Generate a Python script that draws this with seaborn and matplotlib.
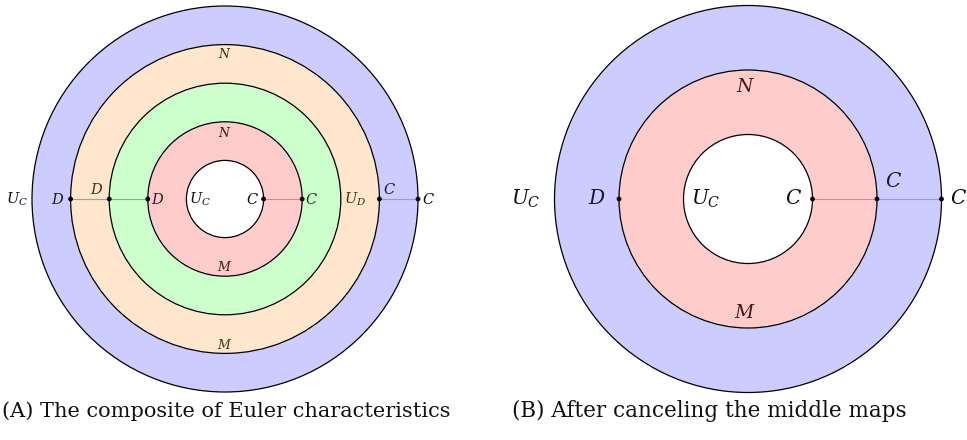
import matplotlib
matplotlib.use("Agg")
import matplotlib.pyplot as plt
import seaborn as sns
import pandas as pd
from matplotlib.patches import Circle

# ---------------- data ----------------
blue20, orange20, green20, red20 = "#ccccff", "#ffe6cc", "#ccffcc", "#ffcccc"

left_radii = [5, 4, 3, 2, 1]                       # outer -> inner
left_fills = [blue20, orange20, green20, red20, "white"]
left_dots = [-4, -3, -2, 1, 2, 4, 5]              # signed radius on horizontal axis
left_segments = [(-4, -2), (1, 2), (4, 5)]
left_labels = ["$U_C$", "$D$", "$D$", "$D$", "$U_C$", "$C$", "$C$", "$U_D$", "$C$", "$C$",
               "$N$", "$M$", "$N$", "$M$"]

right_radii = [3, 2, 1]
right_fills = [blue20, red20, "white"]
right_dots = [-2, 1, 2, 3]
right_segments = [(1, 3)]
right_labels = ["$U_C$", "$D$", "$U_C$", "$C$", "$C$", "$C$", "$N$", "$M$"]

captions = ["(A) The composite of Euler characteristics", "(B) After canceling the middle maps"]

# ---------------- layout (pixels / units) ----------------
W, H = 967, 440
left_center, left_scale = (225, 199), 38.6
right_center, right_scale = (748, 199), 64.5

txt_blue, txt_orange, txt_green, txt_red, txt_black = "#16163f", "#45300f", "#123f12", "#451616", "#0d0d0d"
left_label_pos = [(-5.39, 0), (-4.33, 0), (-3.32, 0.25), (-1.74, 0), (-0.65, 0), (0.70, 0),
                  (2.25, 0), (3.37, 0), (4.25, 0.25), (5.26, 0),
                  (0, 3.75), (0, -3.78), (0, 1.72), (0, -1.76)]
left_label_col = [txt_black, txt_blue, txt_orange, txt_red, txt_black, txt_black,
                  txt_green, txt_orange, txt_blue, txt_black,
                  txt_orange, txt_orange, txt_red, txt_red]
left_label_size = [10.5] * 10 + [9] * 4
right_label_pos = [(-3.45, 0), (-2.34, 0), (-0.66, 0), (0.70, 0), (2.25, 0.27), (3.27, 0),
                   (-0.04, 1.74), (-0.04, -1.76)]
right_label_col = [txt_black, txt_blue, txt_black, txt_black, txt_blue, txt_black,
                   txt_red, txt_red]
right_label_size = [14.5] * 6 + [13.5] * 2

sns.set_theme(style="white")
plt.rcParams["mathtext.fontset"] = "custom"
plt.rcParams["mathtext.rm"] = "DejaVu Serif"
plt.rcParams["mathtext.it"] = "DejaVu Serif:italic"
plt.rcParams["font.family"] = ["DejaVu Serif"]

fig = plt.figure(figsize=(W / 100, H / 100), dpi=100)
ax = fig.add_axes([0, 0, 1, 1])


def draw(center, scale, radii, fills, dots, segments, labels, lpos, lcol, lsize):
    cx, cy = center
    for r, fc in zip(radii, fills):
        ax.add_patch(Circle((cx, cy), r * scale, facecolor=fc, edgecolor="black", lw=0.9, zorder=1))
    rows = []
    for k, (a, b) in enumerate(segments):
        rows.append({"x": cx + a * scale, "y": cy, "seg": k})
        rows.append({"x": cx + b * scale, "y": cy, "seg": k})
    seg_df = pd.DataFrame(rows)
    sns.lineplot(data=seg_df, x="x", y="y", units="seg", estimator=None, sort=False,
                 color="#a0a0a0", lw=0.8, ax=ax, zorder=2, legend=False)
    dot_df = pd.DataFrame({"x": [cx + d * scale for d in dots], "y": [cy] * len(dots)})
    sns.scatterplot(data=dot_df, x="x", y="y", color="black", s=12, edgecolor="none",
                    ax=ax, zorder=3, legend=False)
    for t, (ux, uy), c, fs in zip(labels, lpos, lcol, lsize):
        ax.text(cx + ux * scale, cy - uy * scale, t, color=c, fontsize=fs,
                ha="center", va="center", zorder=4)


draw(left_center, left_scale, left_radii, left_fills, left_dots, left_segments,
     left_labels, left_label_pos, left_label_col, left_label_size)
draw(right_center, right_scale, right_radii, right_fills, right_dots, right_segments,
     right_labels, right_label_pos, right_label_col, right_label_size)

ax.set_xlim(0, W)
ax.set_ylim(H, 0)
ax.set_axis_off()

ax.text(226, 411, captions[0], fontsize=15, ha="center", va="center", color="#111111")
ax.text(709, 411, captions[1], fontsize=15.5, ha="center", va="center", color="#111111")

fig.savefig("out.png", dpi=100)
